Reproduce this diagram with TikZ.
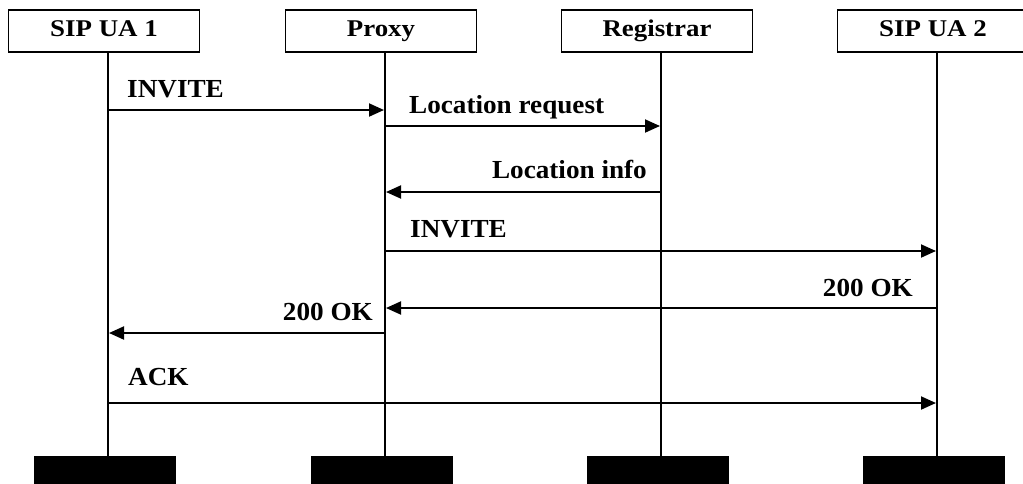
\documentclass[tikz,border=0pt]{standalone}
\usepackage{fontspec}
\setmainfont{Liberation Serif}
\newfontfamily\headfont{Liberation Serif}[FakeStretch=1.12]
\newfontfamily\msgfont{Liberation Serif}[FakeStretch=1.045]
\usetikzlibrary{arrows.meta}

\begin{document}
\begin{tikzpicture}[x=1pt,y=-1pt,
  entity/.style={draw, line width=1.3pt, minimum width=191pt, minimum height=42pt,
    inner sep=0pt, text height=16.5pt, text depth=5pt,
    font=\headfont\bfseries\fontsize{24}{28}\selectfont},
  endbar/.style={fill=black, minimum width=142pt, minimum height=34pt, inner sep=0pt},
  lifeline/.style={line width=1.8pt},
  msg/.style={line width=1.9pt, shorten >=1pt, -{Triangle[length=15pt,width=13pt]}},
  msglabel/.style={font=\msgfont\bfseries\fontsize{26}{30}\selectfont, inner sep=0pt}
]
\useasboundingbox (0,0) rectangle (1023,483);
\clip (0,0) rectangle (1023,483);

% participants
\node[entity] (ua1)   at (104,31) {SIP UA 1};
\node[entity] (proxy) at (381,31) {Proxy};
\node[entity] (reg)   at (657,31) {Registrar};
\node[entity] (ua2)   at (933,31) {SIP UA 2};

% closing bars
\node[endbar] (bar1) at (105,473) {};
\node[endbar] (bar2) at (382,473) {};
\node[endbar] (bar3) at (658,473) {};
\node[endbar] (bar4) at (934,473) {};

% lifelines
\coordinate (l1) at (108,52);
\coordinate (l2) at (385,52);
\coordinate (l3) at (661,52);
\coordinate (l4) at (937,52);
\draw[lifeline] (l1) -- (l1 |- bar1.north);
\draw[lifeline] (l2) -- (l2 |- bar2.north);
\draw[lifeline] (l3) -- (l3 |- bar3.north);
\draw[lifeline] (l4) -- (l4 |- bar4.north);

% message end points
\coordinate (m1a) at (108,110); \coordinate (m1b) at (385,110);
\coordinate (m2a) at (385,126); \coordinate (m2b) at (661,126);
\coordinate (m3a) at (661,192); \coordinate (m3b) at (385,192);
\coordinate (m4a) at (385,251); \coordinate (m4b) at (937,251);
\coordinate (m5a) at (937,308); \coordinate (m5b) at (385,308);
\coordinate (m6a) at (385,333); \coordinate (m6b) at (108,333);
\coordinate (m7a) at (108,403); \coordinate (m7b) at (937,403);

% messages
\draw[msg] (m1a) -- (m1b);
\draw[msg] (m2a) -- (m2b);
\draw[msg] (m3a) -- (m3b);
\draw[msg] (m4a) -- (m4b);
\draw[msg] (m5a) -- (m5b);
\draw[msg] (m6a) -- (m6b);
\draw[msg] (m7a) -- (m7b);

% message labels
\node[msglabel, anchor=base west] (t1) at (127,97)  {INVITE};
\node[msglabel, anchor=base west] (t2) at (409,113) {Location request};
\node[msglabel, anchor=base east] (t3) at (647,178) {Location info};
\node[msglabel, anchor=base west] (t4) at (410,237) {INVITE};
\node[msglabel, anchor=base east] (t5) at (913,296) {200 OK};
\node[msglabel, anchor=base east] (t6) at (373,320) {200 OK};
\node[msglabel, anchor=base west] (t7) at (128,385) {ACK};
\end{tikzpicture}
\end{document}
